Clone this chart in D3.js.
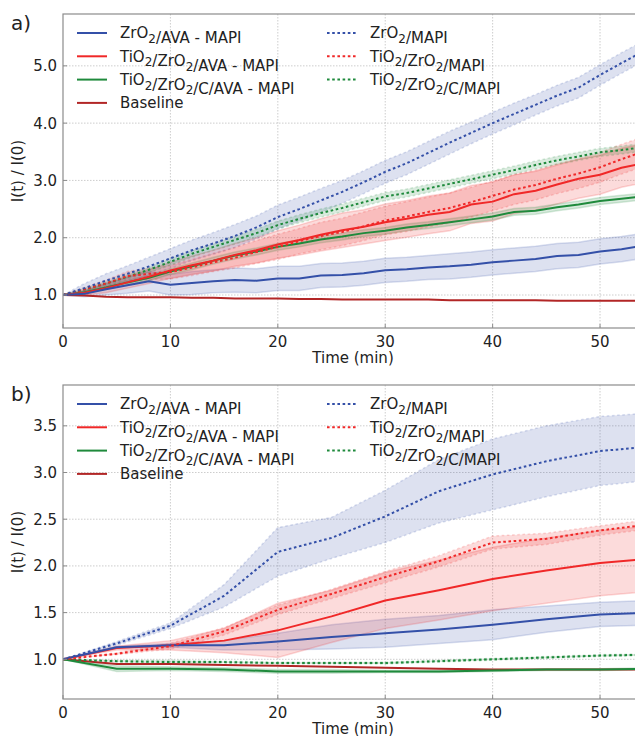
<!DOCTYPE html>
<html>
<head>
<meta charset="utf-8">
<script src="https://cdn.jsdelivr.net/npm/d3@7"></script>
<style>
  body { margin: 0; background: #fff; }
  text { font-family: "DejaVu Sans", sans-serif; fill: #222; }
</style>
</head>
<body>
<svg id="chart" width="635" height="736"></svg>
<script>
// Series labels, colours and line style (solid vs dotted)
var seriesNames = ["ZrO_2/AVA - MAPI", "TiO_2/ZrO_2/AVA - MAPI", "TiO_2/ZrO_2/C/AVA - MAPI", "Baseline",
                   "ZrO_2/MAPI", "TiO_2/ZrO_2/MAPI", "TiO_2/ZrO_2/C/MAPI"];
var seriesColors = ["#3450a8", "#f02828", "#1f8a3c", "#b22626", "#3450a8", "#f02828", "#1f8a3c"];
var seriesDotted = [false, false, false, false, true, true, true];

var xTicks = [0, 10, 20, 30, 40, 50];
var yTicksA = [1, 2, 3, 4, 5];
var yTicksB = [1, 1.5, 2, 2.5, 3, 3.5];

// Panel a) : measured every 2 min
var timeA = [0, 2, 4, 6, 8, 10, 12, 14, 16, 18, 20, 22, 24, 26, 28, 30, 32, 34, 36, 38, 40, 42, 44, 46, 48, 50, 52, 54];
var aZrAva    = [1.0, 1.02, 1.1, 1.17, 1.24, 1.18, 1.21, 1.24, 1.26, 1.25, 1.29, 1.29, 1.34, 1.35, 1.38, 1.43, 1.45, 1.48, 1.5, 1.53, 1.57, 1.6, 1.63, 1.68, 1.7, 1.76, 1.8, 1.86];
var aTiZrAva  = [1.0, 1.04, 1.12, 1.22, 1.32, 1.43, 1.52, 1.6, 1.7, 1.78, 1.88, 1.96, 2.05, 2.13, 2.19, 2.27, 2.33, 2.4, 2.45, 2.58, 2.63, 2.76, 2.82, 2.93, 3.03, 3.1, 3.22, 3.3];
var aTiZrCAva = [1.0, 1.05, 1.13, 1.22, 1.3, 1.41, 1.5, 1.6, 1.69, 1.76, 1.84, 1.9, 1.97, 2.02, 2.08, 2.12, 2.18, 2.22, 2.27, 2.32, 2.37, 2.45, 2.47, 2.53, 2.58, 2.64, 2.68, 2.72];
var aBaseline = [1.0, 0.99, 0.97, 0.96, 0.96, 0.96, 0.95, 0.95, 0.94, 0.94, 0.94, 0.93, 0.93, 0.92, 0.92, 0.92, 0.92, 0.92, 0.91, 0.91, 0.91, 0.91, 0.91, 0.9, 0.9, 0.9, 0.9, 0.9];
var aZr       = [1.0, 1.12, 1.25, 1.37, 1.5, 1.64, 1.78, 1.9, 2.03, 2.18, 2.36, 2.5, 2.65, 2.8, 2.97, 3.15, 3.3, 3.48, 3.66, 3.83, 4.0, 4.16, 4.32, 4.48, 4.62, 4.84, 5.05, 5.25];
var aTiZr     = [1.0, 1.1, 1.2, 1.33, 1.37, 1.4, 1.48, 1.57, 1.65, 1.75, 1.84, 1.94, 2.03, 2.1, 2.2, 2.3, 2.37, 2.45, 2.52, 2.62, 2.73, 2.84, 2.92, 3.03, 3.12, 3.23, 3.37, 3.5];
var aTiZrC    = [1.0, 1.1, 1.2, 1.32, 1.44, 1.58, 1.72, 1.84, 1.96, 2.08, 2.22, 2.33, 2.43, 2.52, 2.62, 2.72, 2.78, 2.86, 2.94, 3.02, 3.1, 3.18, 3.27, 3.35, 3.42, 3.49, 3.53, 3.58];
// spread (half width of shaded band)
var aZrAvaErr    = [0, 0.05, 0.1, 0.14, 0.17, 0.18, 0.2, 0.2, 0.21, 0.21, 0.21, 0.21, 0.21, 0.21, 0.21, 0.21, 0.21, 0.21, 0.22, 0.22, 0.22, 0.22, 0.22, 0.22, 0.22, 0.22, 0.22, 0.22];
var aTiZrAvaErr  = [0, 0.04, 0.08, 0.1, 0.12, 0.14, 0.16, 0.18, 0.2, 0.22, 0.24, 0.26, 0.28, 0.3, 0.3, 0.32, 0.32, 0.33, 0.33, 0.33, 0.34, 0.34, 0.34, 0.34, 0.34, 0.34, 0.34, 0.34];
var aTiZrCAvaErr = [0, 0.02, 0.03, 0.04, 0.05, 0.05, 0.06, 0.06, 0.06, 0.06, 0.06, 0.06, 0.06, 0.06, 0.06, 0.06, 0.06, 0.06, 0.06, 0.06, 0.06, 0.06, 0.06, 0.06, 0.06, 0.06, 0.06, 0.06];
var aZrErr       = [0, 0.08, 0.12, 0.14, 0.16, 0.17, 0.18, 0.19, 0.2, 0.2, 0.21, 0.21, 0.21, 0.2, 0.2, 0.2, 0.2, 0.2, 0.2, 0.19, 0.19, 0.19, 0.18, 0.18, 0.18, 0.18, 0.18, 0.18];
var aTiZrErr     = [0, 0.03, 0.06, 0.08, 0.1, 0.12, 0.14, 0.16, 0.18, 0.2, 0.22, 0.22, 0.24, 0.24, 0.25, 0.25, 0.26, 0.26, 0.26, 0.26, 0.26, 0.26, 0.26, 0.26, 0.26, 0.26, 0.26, 0.26];
var aTiZrCErr    = [0, 0.02, 0.03, 0.04, 0.05, 0.06, 0.06, 0.06, 0.07, 0.07, 0.07, 0.07, 0.07, 0.07, 0.07, 0.07, 0.07, 0.07, 0.07, 0.07, 0.07, 0.07, 0.07, 0.07, 0.07, 0.07, 0.07, 0.07];

// Panel b) : measured every 5 min
var timeB = [0, 5, 10, 15, 20, 25, 30, 35, 40, 45, 50, 55];
var bZrAva    = [1.0, 1.13, 1.15, 1.15, 1.19, 1.24, 1.28, 1.32, 1.37, 1.43, 1.48, 1.5];
var bTiZrAva  = [1.0, 1.12, 1.15, 1.2, 1.31, 1.46, 1.63, 1.74, 1.86, 1.95, 2.03, 2.08];
var bTiZrCAva = [1.0, 0.9, 0.9, 0.89, 0.87, 0.87, 0.87, 0.87, 0.88, 0.89, 0.89, 0.9];
var bBaseline = [1.0, 0.95, 0.95, 0.94, 0.93, 0.92, 0.91, 0.9, 0.89, 0.89, 0.89, 0.89];
var bZr       = [1.0, 1.17, 1.36, 1.68, 2.15, 2.3, 2.53, 2.8, 2.98, 3.12, 3.23, 3.28];
var bTiZr     = [1.0, 1.06, 1.14, 1.3, 1.53, 1.7, 1.88, 2.05, 2.25, 2.29, 2.38, 2.45];
var bTiZrC    = [1.0, 0.98, 0.97, 0.97, 0.96, 0.96, 0.96, 0.98, 1.0, 1.02, 1.04, 1.05];
var bZrAvaErr    = [0, 0.01, 0.02, 0.05, 0.09, 0.13, 0.15, 0.15, 0.16, 0.14, 0.13, 0.13];
var bTiZrAvaErr  = [0, 0.02, 0.05, 0.13, 0.29, 0.28, 0.3, 0.32, 0.34, 0.35, 0.35, 0.35];
var bTiZrCAvaErr = [0, 0.03, 0.02, 0.02, 0.02, 0.02, 0.01, 0.01, 0.01, 0.01, 0.01, 0.01];
var bZrErr       = [0, 0.02, 0.03, 0.12, 0.26, 0.22, 0.28, 0.34, 0.38, 0.38, 0.37, 0.36];
var bTiZrErr     = [0, 0.01, 0.03, 0.04, 0.05, 0.05, 0.06, 0.06, 0.07, 0.06, 0.05, 0.05];
var bTiZrCErr    = [0, 0.01, 0.02, 0.01, 0.01, 0.01, 0.01, 0.01, 0.01, 0.01, 0.01, 0.01];

var panels = [
  { label: "a)", top: 14, bottom: 328, yDomain: [0.424, 5.905], yTicks: yTicksA, fmt: d3.format(".1f"),
    time: timeA,
    values: [aZrAva, aTiZrAva, aTiZrCAva, aBaseline, aZr, aTiZr, aTiZrC],
    errs: [aZrAvaErr, aTiZrAvaErr, aTiZrCAvaErr, null, aZrErr, aTiZrErr, aTiZrCErr] },
  { label: "b)", top: 385, bottom: 699, yDomain: [0.575, 3.937], yTicks: yTicksB, fmt: d3.format(".1f"),
    time: timeB,
    values: [bZrAva, bTiZrAva, bTiZrCAva, bBaseline, bZr, bTiZr, bTiZrC],
    errs: [bZrAvaErr, bTiZrAvaErr, bTiZrCAvaErr, null, bZrErr, bTiZrErr, bTiZrCErr] }
];

var svg = d3.select("#chart");
var left = 63, right = 643;
var x = d3.scaleLinear().domain([0, 54]).range([left, right]);
var dotDash = "2.6,2.6";

// Write a label like "TiO_2/ZrO_2/MAPI" with real subscripts.
function richText(sel, str) {
  var parts = str.split(/_(\d)/);
  parts.forEach(function (p, i) {
    if (p === "") return;
    if (i % 2 === 1) {
      sel.append("tspan").attr("dy", 4.5).attr("font-size", "12px").text(p);
      sel.append("tspan").attr("dy", -4.5).text("");
    } else {
      sel.append("tspan").text(p);
    }
  });
}

panels.forEach(function (p, pi) {
  var y = d3.scaleLinear().domain(p.yDomain).range([p.bottom, p.top]);
  var g = svg.append("g");

  var clipId = "clip" + pi;
  g.append("clipPath").attr("id", clipId)
    .append("rect").attr("x", left).attr("y", p.top)
    .attr("width", right - left).attr("height", p.bottom - p.top);

  // grid
  g.selectAll(".vgrid").data(xTicks.slice(1)).enter().append("line")
    .attr("x1", function (d) { return x(d); }).attr("x2", function (d) { return x(d); })
    .attr("y1", p.top).attr("y2", p.bottom)
    .attr("stroke", "#c0c0c0").attr("stroke-width", 0.8).attr("stroke-dasharray", "1.5,1.5");
  g.selectAll(".hgrid").data(p.yTicks).enter().append("line")
    .attr("x1", left).attr("x2", right)
    .attr("y1", function (d) { return y(d); }).attr("y2", function (d) { return y(d); })
    .attr("stroke", "#c0c0c0").attr("stroke-width", 0.8).attr("stroke-dasharray", "1.5,1.5");

  var plot = g.append("g").attr("clip-path", "url(#" + clipId + ")");

  // shaded bands
  p.values.forEach(function (vals, si) {
    var err = p.errs[si];
    if (!err) return;
    var pts = p.time.map(function (t, i) { return { t: t, lo: vals[i] - err[i], hi: vals[i] + err[i] }; });
    var area = d3.area().x(function (d) { return x(d.t); })
      .y0(function (d) { return y(d.lo); }).y1(function (d) { return y(d.hi); });
    plot.append("path").datum(pts).attr("d", area)
      .attr("fill", seriesColors[si]).attr("fill-opacity", 0.17).attr("stroke", "none");
    ["lo", "hi"].forEach(function (k) {
      var edge = d3.line().x(function (d) { return x(d.t); }).y(function (d) { return y(d[k]); });
      plot.append("path").datum(pts).attr("d", edge)
        .attr("fill", "none").attr("stroke", seriesColors[si]).attr("stroke-opacity", 0.18)
        .attr("stroke-width", 1.5).attr("stroke-dasharray", seriesDotted[si] ? dotDash : null);
    });
  });

  // lines
  var order = [3, 2, 1, 0, 6, 5, 4];
  order.forEach(function (si) {
    var vals = p.values[si];
    var line = d3.line().x(function (d, i) { return x(p.time[i]); }).y(function (d) { return y(d); });
    plot.append("path").datum(vals).attr("d", line)
      .attr("fill", "none").attr("stroke", seriesColors[si]).attr("stroke-width", 2)
      .attr("stroke-dasharray", seriesDotted[si] ? dotDash : null);
  });

  // spines
  g.append("rect").attr("x", left).attr("y", p.top)
    .attr("width", right - left).attr("height", p.bottom - p.top)
    .attr("fill", "none").attr("stroke", "#8c8c8c").attr("stroke-width", 1.2);

  // ticks
  g.selectAll(".xt").data(xTicks).enter().append("line")
    .attr("x1", function (d) { return x(d); }).attr("x2", function (d) { return x(d); })
    .attr("y1", p.bottom).attr("y2", p.bottom - 4).attr("stroke", "#8c8c8c");
  g.selectAll(".yt").data(p.yTicks).enter().append("line")
    .attr("x1", left).attr("x2", left + 4)
    .attr("y1", function (d) { return y(d); }).attr("y2", function (d) { return y(d); })
    .attr("stroke", "#8c8c8c");

  g.selectAll(".xl").data(xTicks).enter().append("text")
    .attr("x", function (d) { return x(d); }).attr("y", p.bottom + 19)
    .attr("text-anchor", "middle").attr("font-size", "15px").text(function (d) { return d; });
  g.selectAll(".yl").data(p.yTicks).enter().append("text")
    .attr("x", left - 6).attr("y", function (d) { return y(d); }).attr("dy", "0.36em")
    .attr("text-anchor", "end").attr("font-size", "15px").text(function (d) { return p.fmt(d); });

  g.append("text").attr("x", (left + right) / 2).attr("y", p.bottom + 35)
    .attr("text-anchor", "middle").attr("font-size", "15px").text("Time (min)");
  g.append("text")
    .attr("transform", "translate(23," + ((p.top + p.bottom) / 2) + ") rotate(-90)")
    .attr("text-anchor", "middle").attr("font-size", "15px").text("I(t) / I(0)");

  g.append("text").attr("x", 11).attr("y", p.top + 16)
    .attr("font-size", "20px").text(p.label);

  // legend
  seriesNames.forEach(function (name, si) {
    var col = si < 4 ? 0 : 1;
    var row = si < 4 ? si : si - 4;
    var lx = col === 0 ? 77 : 327;
    var ly = p.top + 19 + row * 23.3;
    g.append("line").attr("x1", lx).attr("x2", lx + 30).attr("y1", ly).attr("y2", ly)
      .attr("stroke", seriesColors[si]).attr("stroke-width", 2)
      .attr("stroke-dasharray", seriesDotted[si] ? dotDash : null);
    var t = g.append("text").attr("x", lx + 43).attr("y", ly).attr("dy", "0.36em")
      .attr("font-size", "15px");
    richText(t, name);
  });
});
</script>
</body>
</html>
